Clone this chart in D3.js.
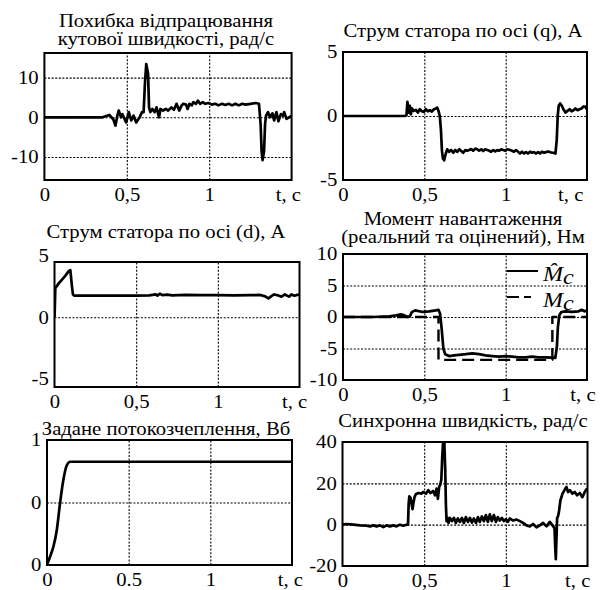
<!DOCTYPE html>
<html>
<head>
<meta charset="utf-8">
<script src="https://cdn.jsdelivr.net/npm/d3@7"></script>
<style>
body { margin: 0; background: #fff; }
svg text { font-family: "Liberation Serif", "Times New Roman", serif; fill: #000; }
</style>
</head>
<body>
<div id="chart"></div>
<script>
// time axis, shared by every panel
var tDomain = [0, 1.5];
var tGrid = [0.5, 1];
var tTicks = [0, 0.5, 1];
var tLabelsComma = ["0", "0,5", "1"];
var tLabelsDot = ["0", "0.5", "1"];
var tUnit = "t, c";

// titles
var titleSpeedErr = ["Похибка відпрацювання", "кутової швидкості, рад/с"];
var titleIq = ["Струм статора по осі (q), A"];
var titleId = ["Струм статора по осі (d), A"];
var titleLoad = ["Момент навантаження", "(реальний та оцінений), Нм"];
var titleFlux = ["Задане потокозчеплення, Вб"];
var titleSync = ["Синхронна швидкість, рад/с"];

// y ticks
var speedErrTicks = [-10, 0, 10];
var iqTicks = [-5, 0, 5];
var idTicks = [-5, 0, 5];
var loadTicks = [-10, -5, 0, 5, 10];
var fluxTicks = [0, 0.5, 1];
var fluxTickLabels = ["0", "0", "1"];
var syncTicks = [-20, 0, 20, 40];

// series [t, value]
var speedErr = [[0,0],[0.19,0],[0.353,0],[0.394,0.6],[0.418,-0.5],[0.431,-2.1],[0.443,0.5],[0.451,1.7],
  [0.465,0],[0.473,0.8],[0.496,-1.3],[0.512,1.3],[0.527,-0.8],[0.541,0.4],[0.557,-1.3],[0.578,0],
  [0.592,1.3],[0.602,1.3],[0.610,8.5],[0.618,13.4],[0.629,11],[0.635,2.5],[0.643,1.3],[0.655,2.1],
  [0.669,1.3],[0.680,2.5],[0.696,0],[0.704,2.1],[0.720,1.7],[0.737,2.1],[0.751,1.7],[0.771,2.5],
  [0.786,1.9],[0.802,3.4],[0.818,1.7],[0.833,3.0],[0.843,3.4],[0.859,3.2],[0.869,2.1],[0.880,3.4],
  [0.894,3.0],[0.904,3.8],[0.920,3.4],[0.931,4.2],[0.945,3.4],[0.961,3.8],[0.976,3.4],[0.996,3.6],
  [1.016,3.2],[1.037,3.4],[1.057,3.0],[1.078,3.4],[1.098,3.1],[1.118,3.4],[1.139,3.0],[1.159,3.4],
  [1.180,3.0],[1.200,3.4],[1.220,3.2],[1.251,3.4],[1.282,3.6],[1.302,3.4],[1.312,-1.7],[1.318,-8.5],
  [1.324,-10.8],[1.333,-8.5],[1.339,-1.7],[1.345,0.4],[1.357,1.3],[1.369,0],[1.384,1.0],[1.394,-0.8],
  [1.408,1.3],[1.420,-1.0],[1.435,0.8],[1.447,0.4],[1.455,1.3],[1.469,-0.4],[1.486,0],[1.5,0.4]];

var iq = [[0,0],[0.38,0],[0.39,0.05],[0.396,1.1],[0.405,0.27],[0.411,0.8],[0.417,0.13],[0.423,0.59],
  [0.435,0.4],[0.448,0.48],[0.46,0.27],[0.472,0.53],[0.485,0.37],[0.497,0.32],[0.509,0.53],[0.522,0.37],
  [0.534,0.45],[0.546,0.35],[0.559,0.53],[0.571,0.59],[0.579,0.66],[0.587,0.4],[0.595,0],[0.602,-1.06],
  [0.608,-2.66],[0.614,-3.32],[0.622,-3.46],[0.632,-2.93],[0.641,-2.6],[0.653,-2.8],[0.665,-2.66],
  [0.678,-2.87],[0.69,-2.66],[0.702,-2.8],[0.715,-2.6],[0.727,-2.73],[0.739,-2.87],[0.752,-2.66],
  [0.764,-2.71],[0.776,-2.66],[0.788,-2.58],[0.8,-2.71],[0.813,-2.55],[0.825,-2.6],[0.837,-2.71],
  [0.85,-2.6],[0.862,-2.74],[0.874,-2.6],[0.887,-2.66],[0.899,-2.71],[0.911,-2.79],[0.924,-2.66],
  [0.936,-2.77],[0.948,-2.66],[0.96,-2.71],[0.973,-2.6],[0.985,-2.66],[0.998,-2.71],[1.01,-2.6],
  [1.027,-2.66],[1.039,-2.71],[1.051,-2.79],[1.064,-2.66],[1.076,-2.79],[1.088,-2.93],[1.1,-2.79],
  [1.113,-2.93],[1.125,-2.82],[1.137,-2.93],[1.15,-2.79],[1.162,-2.87],[1.174,-2.82],[1.187,-2.93],
  [1.199,-2.82],[1.211,-2.93],[1.223,-2.79],[1.236,-2.87],[1.248,-2.82],[1.261,-2.77],[1.28,-2.85],
  [1.294,-2.87],[1.306,-2.93],[1.314,-1.86],[1.32,0],[1.326,0.8],[1.335,0.98],[1.345,0.8],[1.355,0.53],
  [1.368,0.27],[1.38,0.4],[1.393,0.53],[1.405,0.37],[1.417,0.45],[1.429,0.59],[1.442,0.45],[1.454,0.53],
  [1.466,0.59],[1.478,0.74],[1.49,0.74],[1.5,0.5]];

var id = [[0,0],[0.002,0.8],[0.005,2.36],[0.026,2.76],[0.066,3.38],[0.087,3.76],[0.097,3.84],[0.107,2.5],
  [0.113,1.87],[0.12,1.76],[0.3,1.76],[0.5,1.76],[0.58,1.78],[0.6,1.82],[0.62,1.86],[0.63,1.76],
  [0.645,1.92],[0.66,1.8],[0.69,1.84],[0.72,1.78],[0.8,1.82],[0.9,1.8],[1.0,1.8],[1.1,1.78],[1.2,1.8],
  [1.26,1.82],[1.29,1.7],[1.31,1.54],[1.33,1.74],[1.345,1.86],[1.37,1.78],[1.39,1.68],[1.41,1.86],
  [1.436,1.68],[1.45,1.86],[1.47,1.76],[1.48,1.8],[1.5,1.86]];

var loadEst = [[0,0],[0.183,0],[0.285,0.1],[0.326,0.26],[0.356,0.42],[0.377,0.26],[0.397,0],[0.411,0.1],
  [0.423,0.78],[0.444,1.05],[0.489,0.8],[0.53,0.9],[0.57,1.05],[0.587,1.15],[0.597,0.5],[0.607,-2],
  [0.617,-5],[0.628,-5.9],[0.652,-6.2],[0.683,-6.1],[0.713,-6.0],[0.754,-5.9],[0.795,-5.76],[0.836,-5.9],
  [0.876,-6.1],[0.917,-6.2],[0.958,-6.3],[0.999,-6.2],[1.04,-6.3],[1.08,-6.4],[1.121,-6.4],[1.162,-6.3],
  [1.203,-6.4],[1.244,-6.4],[1.285,-6.45],[1.305,-6.5],[1.315,-4.7],[1.321,-1.6],[1.33,0.26],[1.342,0.8],
  [1.366,0.9],[1.407,0.8],[1.448,0.9],[1.468,1.15],[1.485,0.9],[1.5,1.05]];
var loadReal = [[0,0],[0.587,0],[0.587,-6.8],[1.287,-6.8],[1.287,0],[1.5,0]];

var fluxRef = [[0,0],[0.0185,0.066],[0.039,0.146],[0.06,0.28],[0.08,0.496],[0.1,0.68],[0.122,0.8],
  [0.142,0.826],[0.2,0.826],[1.5,0.826]];

var syncSpeed = [[0,0],[0.025,0.33],[0.066,0],[0.107,-0.33],[0.148,-0.5],[0.168,-0.83],[0.189,-0.33],
  [0.209,-0.83],[0.229,-0.33],[0.25,-1.17],[0.27,-0.33],[0.29,-0.83],[0.311,-0.33],[0.331,-0.83],[0.352,0],
  [0.372,-0.5],[0.392,0],[0.401,0],[0.405,10],[0.409,13.7],[0.417,13],[0.423,10],[0.429,7.5],[0.435,10.8],
  [0.441,13.3],[0.449,14.7],[0.464,15.3],[0.484,15],[0.494,15.8],[0.511,15],[0.525,16.7],[0.539,15.3],
  [0.555,16.3],[0.566,14.2],[0.576,17.5],[0.584,12.5],[0.592,18.3],[0.598,19.2],[0.605,21.7],[0.611,33.3],
  [0.617,41.7],[0.623,40.8],[0.629,26.7],[0.633,10],[0.637,1.7],[0.643,3.3],[0.649,0.83],[0.657,3.3],
  [0.67,1.7],[0.682,3.3],[0.694,0.83],[0.706,3],[0.719,1.33],[0.731,3.3],[0.743,0.83],[0.755,3.67],
  [0.768,1.33],[0.78,3.3],[0.792,1],[0.804,3],[0.817,0.83],[0.829,3.67],[0.841,1.33],[0.853,4],[0.866,1.7],
  [0.878,4.67],[0.89,1.33],[0.902,5],[0.914,1.7],[0.927,4.67],[0.939,1.33],[0.951,3.67],[0.963,2],
  [0.976,3.3],[0.988,1.7],[1.0,2.67],[1.012,1.33],[1.024,3],[1.045,2],[1.065,2.5],[1.086,1.7],[1.106,0.83],
  [1.126,-0.33],[1.147,-0.83],[1.167,0.33],[1.188,-1.33],[1.208,-0.33],[1.228,0.83],[1.249,-0.83],
  [1.269,1.33],[1.286,-0.33],[1.298,-1.67],[1.302,-10],[1.306,-16.7],[1.31,-6.67],[1.314,3.3],[1.32,4.17],
  [1.326,6.67],[1.334,11.7],[1.347,15],[1.361,17],[1.371,18.3],[1.381,15.8],[1.392,16.7],[1.408,15],
  [1.422,15.8],[1.436,14.2],[1.453,15.3],[1.469,13.3],[1.483,15.8],[1.497,17.5]];

var STRETCH = 1.15;
var FONT = 18;

var svg = d3.select("#chart").append("svg")
  .attr("width", 605)
  .attr("height", 590);

svg.append("rect").attr("width", 605).attr("height", 590).attr("fill", "#fff");

var panels = [
  { id: "p1", left: 44.4, right: 291.6, top: 53, bottom: 180, yDomain: [-15.8, 16.2],
    yTicks: speedErrTicks, yGrid: [-10, 0, 10], xLabels: tLabelsComma, unitAt: 1.48,
    title: titleSpeedErr, titleX: 166, titleY: 27, series: [{ data: speedErr }] },
  { id: "p2", left: 343, right: 587, top: 52, bottom: 180, yDomain: [-5, 5],
    yTicks: iqTicks, yGrid: [0], xLabels: tLabelsComma, unitAt: 1.40,
    title: titleIq, titleX: 463, titleY: 37, series: [{ data: iq }] },
  { id: "p3", left: 54.5, right: 299.5, top: 262, bottom: 387, yDomain: [-5.67, 4.5],
    yTicks: idTicks, yGrid: [0], xLabels: tLabelsComma, unitAt: 1.47,
    title: titleId, titleX: 166, titleY: 238, series: [{ data: id }] },
  { id: "p4", left: 343, right: 587, top: 254, bottom: 380, yDomain: [-10, 10],
    yTicks: loadTicks, yGrid: [-5, 0, 5], xLabels: tLabelsComma, unitAt: 1.475,
    title: titleLoad, titleX: 463, titleY: 225,
    series: [{ data: loadReal, dash: "12,6" }, { data: loadEst }], legend: true },
  { id: "p5", left: 47, right: 292, top: 440, bottom: 565, yDomain: [0, 1],
    yTicks: fluxTicks, yTickLabels: fluxTickLabels, yGrid: [0.5], xLabels: tLabelsDot, unitAt: 1.49,
    title: titleFlux, titleX: 166, titleY: 435, series: [{ data: fluxRef, smooth: true }] },
  { id: "p6", left: 342.5, right: 587.5, top: 442, bottom: 566, yDomain: [-20, 40],
    yTicks: syncTicks, yGrid: [0, 20], xLabels: tLabelsComma, unitAt: 1.44,
    title: titleSync, titleX: 463, titleY: 427, series: [{ data: syncSpeed }] }
];

function stretchText(sel) {
  sel.selectAll("text")
    .attr("transform", "scale(" + STRETCH + ",1)")
    .attr("font-size", FONT)
    .attr("font-family", null);
}

function DrawPanel(p) {
  var x = d3.scaleLinear().domain(tDomain).range([p.left, p.right]);
  var y = d3.scaleLinear().domain(p.yDomain).range([p.bottom, p.top]);
  var w = p.right - p.left, h = p.bottom - p.top;
  var g = svg.append("g").attr("id", p.id);

  g.append("clipPath").attr("id", "clip-" + p.id)
    .append("rect").attr("x", p.left).attr("y", p.top).attr("width", w).attr("height", h);

  // grid
  var gx = g.append("g")
    .attr("transform", "translate(0," + p.bottom + ")")
    .call(d3.axisBottom(x).tickValues(tGrid).tickSize(-h).tickFormat(""));
  var gy = g.append("g")
    .attr("transform", "translate(" + p.left + ",0)")
    .call(d3.axisLeft(y).tickValues(p.yGrid).tickSize(-w).tickFormat(""));
  [gx, gy].forEach(function (a) {
    a.select(".domain").remove();
    a.selectAll("line").attr("stroke", "#000").attr("stroke-width", 1.1).attr("stroke-dasharray", "2,1.6");
  });

  // curves
  var plot = g.append("g").attr("clip-path", "url(#clip-" + p.id + ")");
  p.series.forEach(function (s) {
    var line = d3.line()
      .x(function (d) { return x(d[0]); })
      .y(function (d) { return y(d[1]); });
    if (s.smooth) line.curve(d3.curveMonotoneX);
    plot.append("path")
      .attr("d", line(s.data))
      .attr("fill", "none")
      .attr("stroke", "#000")
      .attr("stroke-width", s.dash ? 2.4 : 2.7)
      .attr("stroke-linejoin", "round")
      .attr("stroke-dasharray", s.dash || null);
  });

  // frame
  g.append("rect")
    .attr("x", p.left).attr("y", p.top).attr("width", w).attr("height", h)
    .attr("fill", "none").attr("stroke", "#000").attr("stroke-width", 2);

  // tick labels
  var ax = g.append("g")
    .attr("transform", "translate(0," + p.bottom + ")")
    .call(d3.axisBottom(x).tickValues(tTicks).tickSize(0).tickPadding(8)
      .tickFormat(function (d, i) { return p.xLabels[i]; }));
  ax.select(".domain").remove();
  stretchText(ax);

  var ay = g.append("g")
    .attr("transform", "translate(" + p.left + ",0)")
    .call(d3.axisLeft(y).tickValues(p.yTicks).tickSize(0).tickPadding(5)
      .tickFormat(function (d, i) { return p.yTickLabels ? p.yTickLabels[i] : String(d); }));
  ay.select(".domain").remove();
  stretchText(ay);

  g.append("text")
    .attr("transform", "translate(" + x(p.unitAt) + "," + (p.bottom + 21) + ") scale(" + STRETCH + ",1)")
    .attr("text-anchor", "middle")
    .attr("font-size", FONT)
    .text(tUnit);

  // title
  p.title.forEach(function (t, i) {
    g.append("text")
      .attr("transform", "translate(" + p.titleX + "," + (p.titleY + i * 18) + ") scale(" + STRETCH + ",1)")
      .attr("text-anchor", "middle")
      .attr("font-size", FONT)
      .text(t);
  });

  if (p.legend) {
    var lg = g.append("g").attr("transform", "translate(" + (p.right - 80) + "," + (p.top + 17) + ")");
    lg.append("line").attr("x1", 0).attr("x2", 31).attr("y1", 0).attr("y2", 0)
      .attr("stroke", "#000").attr("stroke-width", 2);
    lg.append("line").attr("x1", 0).attr("x2", 24).attr("y1", 26).attr("y2", 26)
      .attr("stroke", "#000").attr("stroke-width", 2).attr("stroke-dasharray", "12,5");
    var names = ["M\u0302", "M"];
    names.forEach(function (n, i) {
      var t = lg.append("text")
        .attr("transform", "translate(36," + (i * 26 + 10) + ") scale(" + STRETCH + ",1)")
        .attr("font-size", 21)
        .attr("font-style", "italic");
      t.append("tspan").text(n);
      t.append("tspan").attr("dy", 3).text("c");
    });
  }
}

panels.forEach(DrawPanel);
</script>
</body>
</html>
